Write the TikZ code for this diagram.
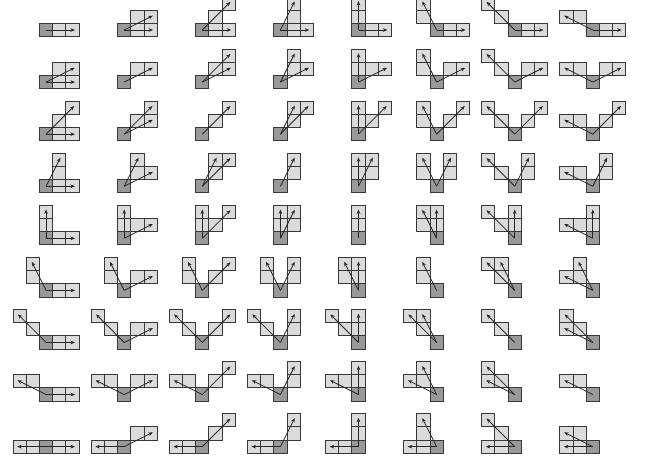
\documentclass[tikz,border=0pt]{standalone}
\usetikzlibrary{arrows.meta}
\begin{document}
\begin{tikzpicture}[x=1pt,y=-1pt,
  cellbox/.style={draw=black!78, line width=1pt, minimum size=13.2pt, inner sep=0pt, outer sep=0pt, anchor=north west, fill=black!14},
  origbox/.style={cellbox, fill=black!40},
  vec/.style={draw=black!85, line width=0.8pt, -{Stealth[length=4.5pt,width=3.6pt]}, shorten >=-2.5pt}]
\useasboundingbox (0,0) rectangle (648,463);
\def\s{13.2}
\foreach \r/\ra/\rb/\rm/\rn in {0/2/0/1/0,1/2/1/1/1,2/2/2/1/1,3/1/2/1/1,4/0/2/0/1,5/-1/2/-1/1,6/-2/2/-1/1,7/-2/1/-1/1,8/-2/0/-1/0}{
  \foreach \c/\ca/\cb/\cm/\cn in {0/2/0/1/0,1/2/1/1/1,2/2/2/1/1,3/1/2/1/1,4/0/2/0/1,5/-1/2/-1/1,6/-2/2/-1/1,7/-2/1/-1/1}{
    \pgfmathsetmacro\X{39.5+78.1*\c}
    \pgfmathsetmacro\Y{23.4+52.08*\r}
    % light cells along the row direction
    \node[cellbox] (am\r\c) at ({\X+\rm*\s},{\Y-\rn*\s}) {};
    \node[cellbox] (a\r\c) at ({\X+\ra*\s},{\Y-\rb*\s}) {};
    % light cells along the column direction
    \node[cellbox] (bm\r\c) at ({\X+\cm*\s},{\Y-\cn*\s}) {};
    \node[cellbox] (b\r\c) at ({\X+\ca*\s},{\Y-\cb*\s}) {};
    % origin cell
    \node[origbox] (o\r\c) at (\X,\Y) {};
    \draw[vec] (o\r\c.center) -- (a\r\c.center);
    \ifnum\r=\c\else
      \draw[vec] (o\r\c.center) -- (b\r\c.center);
    \fi
  }
}
\end{tikzpicture}
\end{document}
